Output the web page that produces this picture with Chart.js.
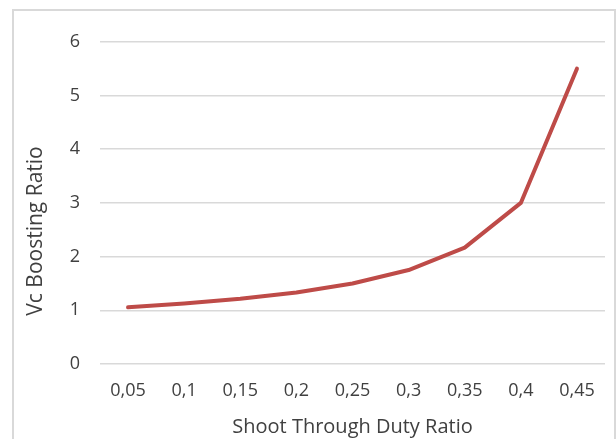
<!DOCTYPE html>
<html>
<head>
<meta charset="utf-8">
<script src="https://cdn.jsdelivr.net/npm/chart.js@4"></script>
<style>
  body { margin: 0; background: #fff; }
  #box { position: absolute; left: 12px; top: 9px; width: 604px; height: 440px; border: 2px solid #d9d9d9; box-sizing: border-box; }
  #wrap { position: absolute; left: 0; top: 0; width: 600px; height: 428px; }
</style>
</head>
<body>
<div id="box"><div id="wrap"><canvas id="myChart"></canvas></div></div>
<script>
// duty ratio categories and boosting values
var dutyLabels = ["0,05", "0,1", "0,15", "0,2", "0,25", "0,3", "0,35", "0,4", "0,45"];
var boostValues = [1.056, 1.125, 1.214, 1.333, 1.5, 1.75, 2.167, 3.0, 5.5];
var yTicks = [0, 1, 2, 3, 4, 5, 6];

var textColor = "#404040";
var fontFam = "'Open Sans', 'Liberation Sans', sans-serif";

// y title sits a bit lower than the plot centre in the original, draw it by hand
var yTitlePlugin = {
    id: "yTitle",
    afterDraw: function (chart) {
        var ctx = chart.ctx;
        ctx.save();
        ctx.translate(22, 220);
        ctx.rotate(-Math.PI / 2);
        ctx.font = "21px " + fontFam;
        ctx.fillStyle = textColor;
        ctx.textAlign = "center";
        ctx.textBaseline = "middle";
        ctx.fillText("Vc Boosting Ratio", 0, 0);
        ctx.restore();
    }
};

new Chart("myChart", {
    type: "line",
    data: {
        labels: dutyLabels,
        datasets: [{
            data: boostValues,
            borderColor: "#be4b48",
            borderWidth: 4,
            pointRadius: 0,
            tension: 0,
            borderCapStyle: "round",
            borderJoinStyle: "round",
            fill: false
        }]
    },
    options: {
        responsive: true,
        maintainAspectRatio: false,
        animation: false,
        layout: { padding: { top: 30, right: 9, left: 0, bottom: 0 } },
        plugins: { legend: { display: false }, tooltip: { enabled: false } },
        scales: {
            x: {
                offset: true,
                grid: { display: false, drawTicks: false, offset: true },
                border: { display: false },
                ticks: { color: textColor, font: { family: fontFam, size: 18 }, padding: 16, maxRotation: 0 },
                title: { display: true, text: "Shoot Through Duty Ratio", color: textColor, font: { family: fontFam, size: 20 }, padding: { top: 2, bottom: 0 } },
                afterFit: function (scale) { scale.height = 75; }
            },
            y: {
                min: 0,
                max: 6,
                afterBuildTicks: function (scale) {
                    scale.ticks = yTicks.map(function (v) { return { value: v }; });
                },
                grid: { color: "#d9d9d9", lineWidth: 1.5, drawTicks: false },
                border: { display: false },
                ticks: { color: textColor, font: { family: fontFam, size: 18 }, padding: 20 },
                afterFit: function (scale) { scale.width = 86; }
            }
        }
    },
    plugins: [yTitlePlugin]
});
</script>
</body>
</html>
